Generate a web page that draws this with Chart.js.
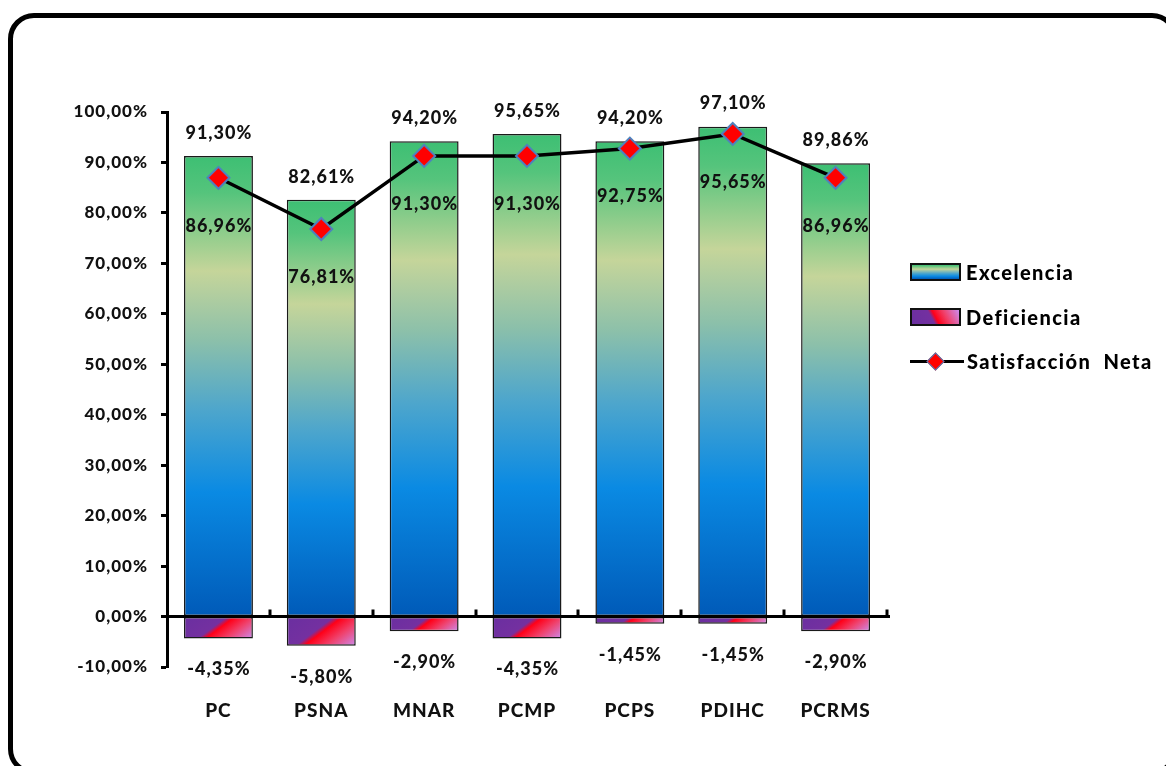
<!DOCTYPE html>
<html lang="es">
<head>
<meta charset="utf-8">
<title>Excelencia, Deficiencia y Satisfacción Neta</title>
<script src="https://cdn.jsdelivr.net/npm/chart.js@4"></script>
<style>
  html, body { margin: 0; padding: 0; background: #fff; }
  #wrap { position: relative; width: 1166px; height: 766px; overflow: hidden; background: #fff; }
  #frame {
    position: absolute; left: 8px; top: 13px; width: 1170px; height: 762px;
    box-sizing: border-box; border: 5px solid #000; border-radius: 26px;
    pointer-events: none;
  }
  #chart { position: absolute; left: 0; top: 0; }
  .legend-item { position: absolute; left: 910px; height: 24px; display: flex; align-items: center;
    font-family: Lato, "Open Sans", sans-serif; font-weight: 900; font-size: 20px; letter-spacing: 1.4px; color: #000; }
  .swatch { width: 51px; height: 18px; box-sizing: border-box; border: 2px solid #111; margin-right: 5px; }
  .sw-exc { background: linear-gradient(to bottom, #3dbf73 0%, #c5d59a 30%, #4ea6cc 60%, #0a8ae3 80%, #005ab8 100%); }
  .sw-def { background: linear-gradient(62deg, #6a2fa0 0%, #7430a0 42%, #ff0018 50%, #f0406a 70%, #cc8cf0 100%); }
  .sw-line { position: relative; width: 54px; height: 17px; margin-right: 3px; }
  .sw-line::before { content: ""; position: absolute; left: 0; right: 0; top: 7px; height: 3px; background: #000; }
  .sw-line::after { content: ""; position: absolute; left: 19px; top: 2px; width: 11px; height: 11px;
    background: #ff0000; border: 1.5px solid #4f81bd; transform: rotate(45deg); }
</style>
</head>
<body>
<div id="wrap">
  <canvas id="chart" width="1166" height="766"></canvas>
  <div id="legend"></div>
  <div id="frame"></div>
</div>
<script>
// Categories (programas evaluados)
const categories = ['PC', 'PSNA', 'MNAR', 'PCMP', 'PCPS', 'PDIHC', 'PCRMS'];

// Series names
const seriesNames = ['Excelencia', 'Deficiencia', 'Satisfacción  Neta'];

// Values in percent
const excelencia = [91.30, 82.61, 94.20, 95.65, 94.20, 97.10, 89.86];
const deficiencia = [-4.35, -5.80, -2.90, -4.35, -1.45, -1.45, -2.90];
const satisfaccionNeta = [86.96, 76.81, 91.30, 91.30, 92.75, 95.65, 86.96];

// Value axis ticks
const yTicks = [-10, 0, 10, 20, 30, 40, 50, 60, 70, 80, 90, 100];

const FONT = 'Lato, "Open Sans", sans-serif';
const WEIGHT = '900';
const pct = v => v.toFixed(2).replace('.', ',') + '%';

// Vertical green -> khaki -> teal -> blue fill, scaled to each bar
function excelenciaFill(ctx) {
  const chart = ctx.chart;
  if (!chart.chartArea || ctx.type !== 'data') return '#2a9bd6';
  const ys = chart.scales.y;
  const top = ys.getPixelForValue(ctx.raw);
  const base = ys.getPixelForValue(0);
  const g = chart.ctx.createLinearGradient(0, top, 0, base);
  g.addColorStop(0.00, '#3dbf73');
  g.addColorStop(0.08, '#55c47c');
  g.addColorStop(0.25, '#c5d59a');
  g.addColorStop(0.40, '#8cc0aa');
  g.addColorStop(0.55, '#4ea6cc');
  g.addColorStop(0.73, '#0a8ae3');
  g.addColorStop(1.00, '#005ab8');
  return g;
}

// Diagonal purple -> red -> lavender fill for the negative bars
function deficienciaFill(ctx) {
  const chart = ctx.chart;
  if (!chart.chartArea || ctx.type !== 'data') return '#7030a0';
  const xs = chart.scales.x, ys = chart.scales.y;
  const cx = xs.getPixelForValue(ctx.dataIndex);
  const halfW = (xs.width / categories.length) * 0.67 / 2;
  const y0 = ys.getPixelForValue(0), y1 = ys.getPixelForValue(ctx.raw);
  const cy = (y0 + y1) / 2, halfH = Math.abs(y1 - y0) / 2;
  const dx = 0.6, dy = 0.8;
  const L = halfW * dx + halfH * dy;
  const g = chart.ctx.createLinearGradient(cx - dx * L, cy - dy * L, cx + dx * L, cy + dy * L);
  g.addColorStop(0.00, '#6a2fa0');
  g.addColorStop(0.44, '#7430a0');
  g.addColorStop(0.52, '#ff0018');
  g.addColorStop(0.72, '#f0406a');
  g.addColorStop(1.00, '#cc8cf0');
  return g;
}

// Slightly spaced lettering for all canvas text
const letterSpacing = {
  id: 'letterSpacing',
  beforeLayout(chart) { chart.ctx.letterSpacing = '1px'; },
  beforeDraw(chart) { chart.ctx.letterSpacing = '1px'; }
};

// Zero line with category tick marks, drawn over the bars
const zeroAxis = {
  id: 'zeroAxis',
  afterDatasetsDraw(chart) {
    const { ctx, chartArea } = chart;
    const xs = chart.scales.x, ys = chart.scales.y;
    const y0 = ys.getPixelForValue(0);
    const step = xs.width / categories.length;
    ctx.save();
    ctx.strokeStyle = '#000';
    ctx.lineWidth = 3;
    ctx.beginPath();
    ctx.moveTo(chartArea.left - 1, y0);
    ctx.lineTo(chartArea.right + 3, y0);
    for (let i = 1; i <= categories.length; i++) {
      const x = Math.round(xs.left + i * step);
      ctx.moveTo(x, y0);
      ctx.lineTo(x, y0 - 7);
    }
    ctx.stroke();
    ctx.restore();
  }
};

// Value labels for every series
const valueLabels = {
  id: 'valueLabels',
  afterDraw(chart) {
    const { ctx } = chart;
    ctx.save();
    ctx.letterSpacing = '1px';
    ctx.font = `${WEIGHT} 18px ${FONT}`;
    ctx.fillStyle = '#111';
    ctx.textAlign = 'center';
    ctx.textBaseline = 'middle';
    chart.data.datasets.forEach((ds, di) => {
      const meta = chart.getDatasetMeta(di);
      meta.data.forEach((el, i) => {
        const v = ds.data[i];
        let y;
        if (ds.type === 'line') y = el.y + 48;
        else if (v >= 0) y = el.y - 23;
        else y = el.y + 31;
        ctx.fillText(pct(v), el.x + 0.5, y);
      });
    });
    ctx.restore();
  }
};

new Chart(document.getElementById('chart'), {
  data: {
    labels: categories,
    datasets: [
      {
        type: 'line',
        label: seriesNames[2],
        data: satisfaccionNeta,
        order: 0,
        borderColor: '#000',
        borderWidth: 3.5,
        tension: 0,
        pointStyle: 'rectRot',
        pointRadius: 11,
        pointHoverRadius: 11,
        pointBackgroundColor: '#ff0000',
        pointBorderColor: '#4f81bd',
        pointBorderWidth: 2
      },
      {
        type: 'bar',
        label: seriesNames[0],
        data: excelencia,
        stack: 'a',
        order: 1,
        backgroundColor: excelenciaFill,
        borderColor: '#1a1a1a',
        borderWidth: 1.5,
        borderSkipped: false,
        categoryPercentage: 1,
        barPercentage: 0.67
      },
      {
        type: 'bar',
        label: seriesNames[1],
        data: deficiencia,
        stack: 'a',
        order: 1,
        backgroundColor: deficienciaFill,
        borderColor: '#1a1a1a',
        borderWidth: 1.5,
        borderSkipped: false,
        categoryPercentage: 1,
        barPercentage: 0.67
      }
    ]
  },
  options: {
    responsive: false,
    animation: false,
    events: [],
    layout: { padding: { left: 0, top: 112, right: 279, bottom: 39 } },
    plugins: {
      legend: { display: false },
      tooltip: { enabled: false },
      title: { display: false }
    },
    scales: {
      x: {
        type: 'category',
        stacked: true,
        offset: true,
        border: { display: false },
        grid: { display: false, drawTicks: false },
        ticks: {
          padding: 32,
          color: '#111',
          font: { family: FONT, weight: WEIGHT, size: 19 }
        },
        afterFit(scale) { scale.height = 60; }
      },
      y: {
        min: -10,
        max: 100,
        stacked: false,
        afterBuildTicks(scale) { scale.ticks = yTicks.map(v => ({ value: v })); },
        border: { display: true, color: '#000', width: 3 },
        grid: { drawOnChartArea: false, drawTicks: true, tickLength: 6, tickColor: '#000', tickWidth: 3 },
        ticks: {
          padding: 13,
          color: '#111',
          font: { family: FONT, weight: WEIGHT, size: 17 },
          callback: v => pct(v)
        },
        afterFit(scale) { scale.width = 167; }
      }
    }
  },
  plugins: [letterSpacing, zeroAxis, valueLabels]
});

// Legend built from the series names
const legend = document.getElementById('legend');
const swatchClass = ['sw-exc', 'sw-def', 'sw-line'];
const legendTop = [260, 305, 349];
seriesNames.forEach((name, i) => {
  const item = document.createElement('div');
  item.className = 'legend-item';
  item.style.top = legendTop[i] + 'px';
  const sw = document.createElement('span');
  sw.className = (i < 2 ? 'swatch ' : '') + swatchClass[i];
  item.appendChild(sw);
  const txt = document.createElement('span');
  txt.textContent = name;
  txt.style.whiteSpace = 'pre';
  item.appendChild(txt);
  legend.appendChild(item);
});
</script>
</body>
</html>
